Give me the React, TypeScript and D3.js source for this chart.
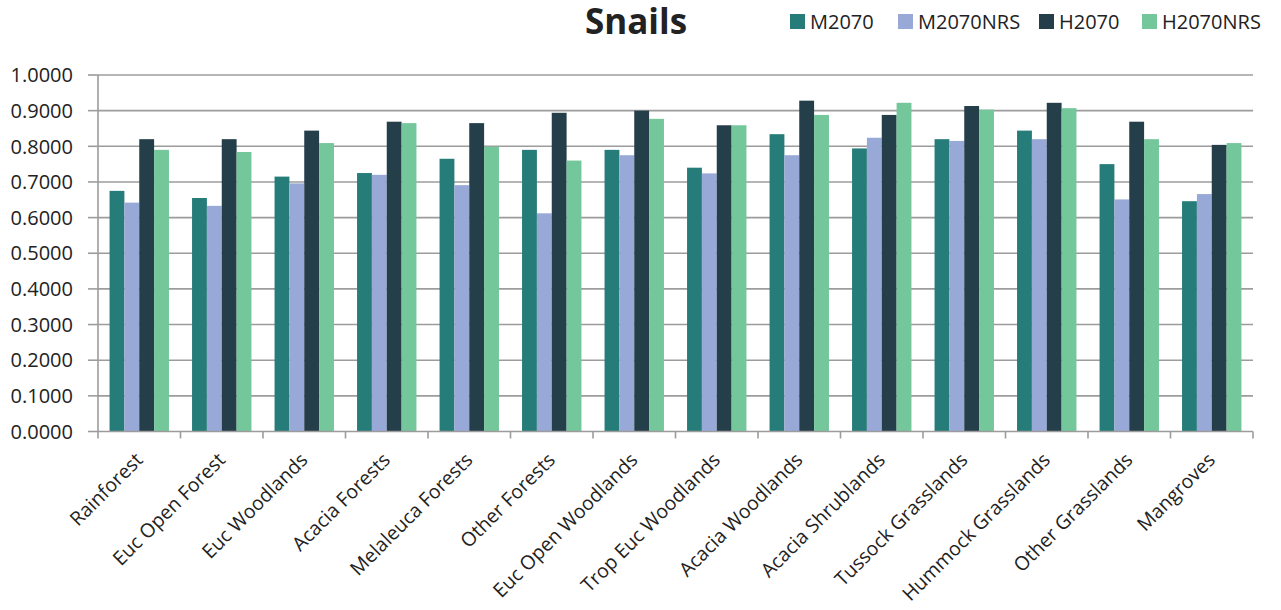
import React from "react";
import * as d3 from "d3";

const categories = [
  "Rainforest", "Euc Open Forest", "Euc Woodlands", "Acacia Forests", "Melaleuca Forests",
  "Other Forests", "Euc Open Woodlands", "Trop Euc Woodlands", "Acacia Woodlands",
  "Acacia Shrublands", "Tussock Grasslands", "Hummock Grasslands", "Other Grasslands", "Mangroves",
];
const seriesNames = ["M2070", "M2070NRS", "H2070", "H2070NRS"];
const M2070 = [0.675, 0.655, 0.715, 0.725, 0.765, 0.790, 0.790, 0.740, 0.834, 0.794, 0.820, 0.844, 0.750, 0.646];
const M2070NRS = [0.642, 0.633, 0.696, 0.720, 0.691, 0.612, 0.775, 0.724, 0.775, 0.824, 0.815, 0.820, 0.651, 0.666];
const H2070 = [0.820, 0.820, 0.844, 0.869, 0.865, 0.894, 0.900, 0.859, 0.928, 0.888, 0.913, 0.922, 0.869, 0.804];
const H2070NRS = [0.790, 0.784, 0.809, 0.865, 0.799, 0.760, 0.877, 0.859, 0.888, 0.922, 0.903, 0.907, 0.820, 0.809];
const yTicks = [0, 0.1, 0.2, 0.3, 0.4, 0.5, 0.6, 0.7, 0.8, 0.9, 1.0];
const colors = ["#267C79", "#98A9D7", "#243E4A", "#74C69B"];
const legendX = [790, 898, 1039, 1142];

const W = 1281, H = 610;
const left = 98, right = 1253, top = 75, bottom = 431.5;
const font = "'Open Sans', sans-serif";

export default function App() {
  const seriesValues = [M2070, M2070NRS, H2070, H2070NRS];
  const x0 = d3.scaleBand<string>().domain(categories).range([left, right]).padding(0);
  const bw = x0.bandwidth();
  const x1 = d3.scaleBand<string>().domain(seriesNames).range([bw * 0.14, bw * 0.86]).padding(0);
  const y = d3.scaleLinear().domain([0, 1]).range([bottom, top]);
  const axisColor = "#9c9c9c";

  return (
    <svg width={W} height={H} style={{ position: "absolute", left: 0, top: 0, background: "#fff" }}>
      {yTicks.filter((t) => t > 0).map((t) => (
        <line key={"g" + t} x1={left} x2={right} y1={y(t)} y2={y(t)} stroke={axisColor} strokeWidth={1.6} />
      ))}
      {categories.map((c, i) => (
        <g key={c} transform={`translate(${x0(c)},0)`}>
          {seriesNames.map((s, j) => (
            <rect
              key={s}
              x={x1(s)}
              y={y(seriesValues[j][i])}
              width={x1.bandwidth()}
              height={y(0) - y(seriesValues[j][i])}
              fill={colors[j]}
            />
          ))}
        </g>
      ))}
      <line x1={left} x2={left} y1={top} y2={bottom} stroke={axisColor} strokeWidth={1.6} />
      {yTicks.map((t) => (
        <g key={"t" + t}>
          <line x1={left - 10} x2={left} y1={y(t)} y2={y(t)} stroke={axisColor} strokeWidth={1.6} />
          <text x={73} y={y(t)} dy="0.36em" textAnchor="end" fontFamily={font} fontSize={20} fill="#222">
            {d3.format(".4f")(t)}
          </text>
        </g>
      ))}
      <line x1={left} x2={right} y1={bottom} y2={bottom} stroke={axisColor} strokeWidth={1.6} />
      {categories.map((c) => (
        <line key={"xt" + c} x1={x0(c)!} x2={x0(c)!} y1={bottom} y2={bottom + 7} stroke={axisColor} strokeWidth={1.6} />
      ))}
      <line x1={right} x2={right} y1={bottom} y2={bottom + 7} stroke={axisColor} strokeWidth={1.6} />
      {categories.map((c) => {
        const cx = x0(c)! + bw / 2;
        return (
          <text
            key={"xl" + c}
            transform={`translate(${cx - 5},${bottom + 20}) rotate(-45)`}
            dy="0.7em"
            textAnchor="end"
            fontFamily={font}
            fontSize={19.5}
            fill="#222"
          >
            {c}
          </text>
        );
      })}
      <text x={636} y={34} textAnchor="middle" fontFamily={font} fontWeight="bold" fontSize={35} fill="#222">
        Snails
      </text>
      {seriesNames.map((s, j) => (
        <g key={"lg" + s}>
          <rect x={legendX[j]} y={14} width={15} height={15} fill={colors[j]} />
          <text x={legendX[j] + 20} y={29} fontFamily={font} fontSize={20} fill="#222">
            {s}
          </text>
        </g>
      ))}
    </svg>
  );
}
